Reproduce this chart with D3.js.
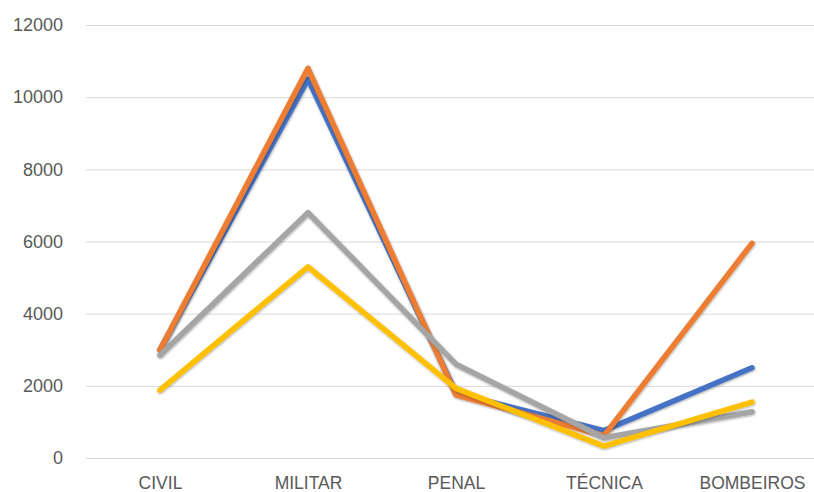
<!DOCTYPE html>
<html><head><meta charset="utf-8">
<script src="https://cdn.jsdelivr.net/npm/d3@7"></script>
<style>body{margin:0;background:#fff}svg{display:block}</style>
</head><body>
<svg id="c" width="814" height="492"></svg>
<script>
const categories = ["CIVIL", "MILITAR", "PENAL", "TÉCNICA", "BOMBEIROS"];
const seriesNames = ["Série 1", "Série 2", "Série 3", "Série 4"];
const serie1 = [3000, 10500, 1800, 760, 2500];
const serie2 = [3000, 10800, 1750, 620, 5950];
const serie3 = [2850, 6800, 2600, 560, 1280];
const serie4 = [1880, 5300, 1930, 330, 1550];
const seriesColors = ["#4472C4", "#ED7D31", "#A5A5A5", "#FFC000"];
const yTicks = [0, 2000, 4000, 6000, 8000, 10000, 12000];

const svg = d3.select("#c");
const mLeft = 86, band = 148, mTop = 25, mBottom = 458;
const x = d3.scalePoint().domain(categories).range([mLeft + band/2, mLeft + band*4.5]);
const y = d3.scaleLinear().domain([0, 12000]).range([mBottom, mTop]);

const defs = svg.append("defs");
const f = defs.append("filter").attr("id","sh").attr("x","-10%").attr("y","-10%").attr("width","120%").attr("height","120%");
f.append("feDropShadow").attr("dx",0.5).attr("dy",1).attr("stdDeviation",1.2).attr("flood-color","#000").attr("flood-opacity",0.35);

const yAxis = d3.axisLeft(y).tickValues(yTicks).tickFormat(d3.format("d")).tickSize(-(814-mLeft)).tickPadding(23);
const gy = svg.append("g").attr("transform",`translate(${mLeft},0)`).call(yAxis);
gy.select(".domain").remove();
gy.selectAll(".tick line").attr("stroke","#d9d9d9").attr("stroke-width",1);
gy.selectAll(".tick text").attr("fill","#595959").style("font-family","Liberation Sans, Arial, sans-serif").style("font-size","18px");

const xAxis = d3.axisBottom(x).tickSize(0).tickPadding(19);
const gx = svg.append("g").attr("transform",`translate(0,${mBottom})`).call(xAxis);
gx.select(".domain").remove();
gx.selectAll(".tick text").attr("fill","#595959").style("font-family","Liberation Sans, Arial, sans-serif").style("font-size","17.5px");

const allSeries = [serie1, serie2, serie3, serie4];
const line = d3.line().x((d,i)=>x(categories[i])).y(d=>y(d));
allSeries.forEach((s,k)=>{
  svg.append("path").datum(s).attr("d",line)
    .attr("fill","none").attr("stroke",seriesColors[k]).attr("stroke-width",5.5)
    .attr("stroke-linejoin","round").attr("stroke-linecap","round")
    .attr("filter","url(#sh)")
    .append("title").text(seriesNames[k]);
});
</script>
</body></html>
